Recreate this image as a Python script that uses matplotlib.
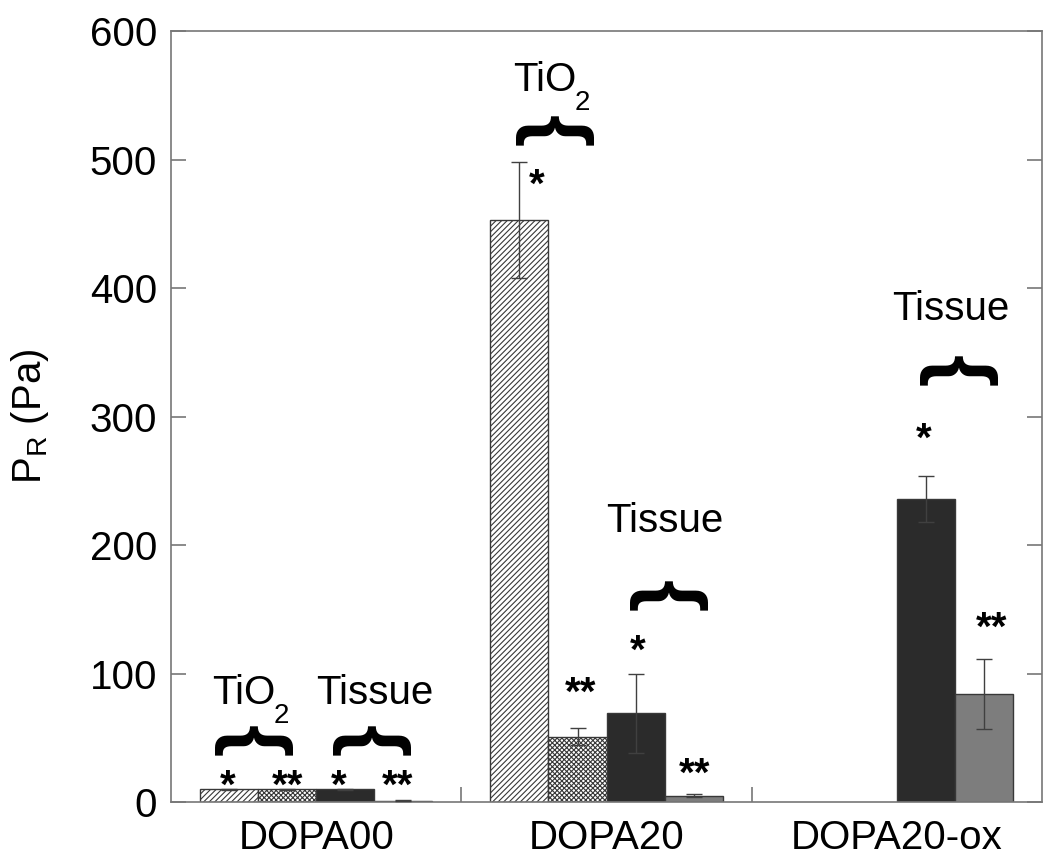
import matplotlib
matplotlib.use("Agg")
import matplotlib.pyplot as plt
import numpy as np

plt.rcParams['font.family'] = ['Liberation Sans', 'DejaVu Sans']
plt.rcParams['mathtext.default'] = 'regular'
plt.rcParams['hatch.linewidth'] = 0.8

groups = ["DOPA00", "DOPA20", "DOPA20-ox"]

# bar series (Pa), order within each group: TiO2 *, TiO2 **, Tissue *, Tissue **
tio2_s = [10, 453, np.nan]
tio2_ss = [10, 51, np.nan]
tissue_s = [10, 69, 236]
tissue_ss = [1, 5, 84]

tio2_s_err = [0.5, 45, np.nan]
tio2_ss_err = [0.5, 7, np.nan]
tissue_s_err = [0.5, 31, 18]
tissue_ss_err = [0.3, 1, 27]

yticks = [0, 100, 200, 300, 400, 500, 600]

# star labels: (text, x, baseline y)
stars = [("*", -0.304, 3), ("**", -0.100, 3), ("*", 0.079, 3), ("**", 0.282, 3),
         ("*", 0.760, 471), ("**", 0.909, 76), ("*", 1.108, 108), ("**", 1.305, 13),
         ("*", 2.094, 273), ("**", 2.328, 126)]
# braces: (x centre, y centre)
braces = [(-0.221, 47), (0.185, 47), (0.813, 522), (1.206, 160), (2.207, 335)]
# "Tissue" labels: (x centre, baseline y)
tissue_lbl = [(0.202, 76), (1.201, 210), (2.186, 375)]
# "TiO2" labels: (x left, baseline y)
tio2_lbl = [(-0.359, 76), (0.678, 553)]

fig = plt.figure(figsize=(10.5, 8.6), dpi=100)
ax = fig.add_axes([0.1629, 0.0674, 0.8295, 0.8965])

x = np.arange(len(groups))
w = 0.2
edge = '#383838'
series = [
    (tio2_s, tio2_s_err, dict(color='white', hatch='//////')),
    (tio2_ss, tio2_ss_err, dict(color='white', hatch='xxxxxxx')),
    (tissue_s, tissue_s_err, dict(color='#2b2b2b')),
    (tissue_ss, tissue_ss_err, dict(color='#7d7d7d')),
]
for i, (vals, errs, st) in enumerate(series):
    pos = x + (i - 1.5) * w
    ax.bar(pos, vals, w, edgecolor=edge, linewidth=1.0, zorder=2, **st)
    ax.errorbar(pos, vals, yerr=errs, fmt='none', ecolor='#404040',
                elinewidth=1.0, capsize=6, capthick=1.0, zorder=3)

fs = 29
for s, sx, sy in stars:
    ax.text(sx, sy, s, ha='center', va='baseline', fontsize=fs, fontweight='bold')
for bx, by in braces:
    ax.text(bx, by, "{", ha='center', va='center', rotation=-90, fontsize=60,
            fontweight='bold')
for tx, ty in tio2_lbl:
    t = ax.text(tx, ty, "TiO", ha='left', va='baseline', fontsize=fs)
    ax.annotate("2", xy=(1, 0), xycoords=t, xytext=(-1, 7), textcoords='offset points',
                ha='left', va='top', fontsize=20)
for tx, ty in tissue_lbl:
    ax.text(tx, ty, "Tissue", ha='center', va='baseline', fontsize=fs)

ax.set_xlim(-0.5, 2.5)
ax.set_ylim(0, 600)
ax.set_yticks(yticks)
ax.set_xticks(x)
ax.set_xticklabels(groups, fontsize=fs)
ax.set_xticks([0.5, 1.5], minor=True)
ax.tick_params(axis='y', which='major', direction='in', length=11, width=1.2,
               color='#777777', labelsize=fs, right=True, pad=10)
ax.tick_params(axis='x', which='major', length=0, pad=12)
ax.tick_params(axis='x', which='minor', direction='in', length=11, width=1.2,
               color='#777777')
for sp in ax.spines.values():
    sp.set_color('#777777')
    sp.set_linewidth(1.2)

ax.set_ylabel("P$_\\mathregular{R}$ (Pa)", fontsize=fs, labelpad=28)

fig.savefig("out.png", dpi=100)
